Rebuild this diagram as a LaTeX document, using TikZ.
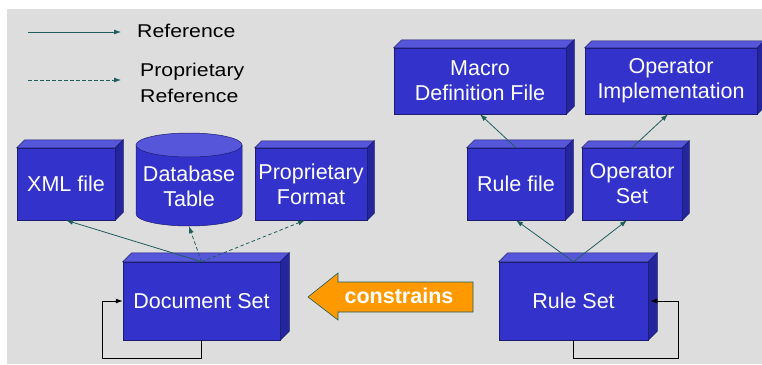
\documentclass[tikz,border=0pt]{standalone}
\usepackage{fontspec}
\setmainfont{Liberation Sans}
\newfontfamily\legendfont[FakeStretch=1.15]{Liberation Sans}
\usetikzlibrary{arrows.meta}
\definecolor{bg}{HTML}{DDDDDD}
\definecolor{boxfront}{HTML}{3333CC}
\definecolor{boxtop}{HTML}{5656DA}
\definecolor{boxside}{HTML}{25259E}
\definecolor{boxedge}{HTML}{1C1C70}
\definecolor{link}{HTML}{1F5C5C}
\definecolor{orangefill}{HTML}{FF9900}
\begin{document}
\begin{tikzpicture}[x=1pt,y=-1pt,
  box/.style={fill=boxfront, draw=boxedge, line width=0.5pt, inner sep=0pt,
    align=center, text=white, font=\fontsize{21.5}{25}\selectfont},
  ref/.style={draw=link, line width=0.8pt, -{Latex[length=7pt,width=5pt]}},
  propref/.style={ref, dash pattern=on 3.5pt off 2.5pt},
  loopline/.style={draw=black, line width=0.8pt, -{Latex[length=7pt,width=5pt]}},
  legendtext/.style={anchor=west, inner sep=0pt, align=left, text=black,
    font=\legendfont\fontsize{18.5}{26}\selectfont},
]
% canvas and background
\useasboundingbox (0,0) rectangle (762,364);
\fill[white] (0,0) rectangle (762,364);
\fill[bg] (7,9) rectangle (762,364);

% legend
\coordinate (lega) at (28,32);
\coordinate (legb) at (121,32);
\coordinate (legc) at (28,80);
\coordinate (legd) at (121,80);
\draw[ref] (lega) -- (legb);
\draw[propref] (legc) -- (legd);
\node[legendtext] (legref) at (137,31) {Reference};
\node[legendtext] (legprop) at (140,83) {Proprietary\\Reference};

% boxes
\node[box, minimum width=98pt, minimum height=72pt] (xml) at (66,184) {XML file};
\node[box, minimum width=112pt, minimum height=72pt] (prop) at (311,184) {Proprietary\\Format};
\node[box, minimum width=157pt, minimum height=78pt] (doc) at (201.5,301) {Document Set};
\node[box, minimum width=149pt, minimum height=78pt] (rules) at (573.5,301) {Rule Set};
\node[box, minimum width=172pt, minimum height=66pt] (macro) at (480,81) {Macro\\Definition File};
\node[box, minimum width=172pt, minimum height=66pt] (opimpl) at (671,81) {Operator\\Implementation};
\node[box, minimum width=98pt, minimum height=72pt] (rulefile) at (516,184) {Rule file};
\node[box, minimum width=100pt, minimum height=72pt] (opset) at (632,184) {Operator\\Set};

% top and side faces of the boxes
\foreach \n/\d in {xml/8, prop/7, doc/9, rules/9, macro/8, opimpl/7, rulefile/8, opset/7} {
  \filldraw[fill=boxtop, draw=boxedge, line width=0.5pt]
    (\n.north west) -- ([shift={(\d pt,\d pt)}]\n.north west)
    -- ([shift={(\d pt,\d pt)}]\n.north east) -- (\n.north east) -- cycle;
  \filldraw[fill=boxside, draw=boxedge, line width=0.5pt]
    (\n.north east) -- ([shift={(\d pt,\d pt)}]\n.north east)
    -- ([shift={(\d pt,\d pt)}]\n.south east) -- (\n.south east) -- cycle;
}

% database cylinder
\filldraw[fill=boxfront, draw=boxedge, line width=0.5pt]
  (136,145) -- (136,214) arc[start angle=180, end angle=360, x radius=53pt, y radius=12pt]
  -- (242,145) -- cycle;
\filldraw[fill=boxtop, draw=boxedge, line width=0.5pt]
  (189,145) ellipse [x radius=53pt, y radius=12pt];
\node[box, fill=none, draw=none, minimum width=106pt, minimum height=93pt] (db) at (189,179.5) {};
\node[text=white, align=center, inner sep=0pt, font=\fontsize{21.5}{25}\selectfont] (dbtext) at (189,186) {Database\\Table};

% references from the document set
\draw[ref] (doc.north) -- (xml.south);
\draw[propref] (doc.north) -- (db.south);
\draw[propref] (doc.north) -- ([xshift=-6pt]prop.south);

% references from the rule set
\draw[ref] (rules.north) -- (rulefile.south);
\draw[ref] (rules.north) -- ([xshift=-5pt]opset.south);
\draw[ref] (rulefile.north) -- (macro.south);
\draw[ref] (opset.north) -- ([xshift=-3pt]opimpl.south);

% self references
\draw[loopline] (doc.south) -- ++(0,18) -| ([xshift=-20pt]doc.west) -- (doc.west);
\draw[loopline] (rules.south) -- ++(0,18) -| ([xshift=30pt]rules.east) -- ([xshift=2pt]rules.east);

% constraint arrow
\coordinate (conscentre) at (399,296);
\filldraw[fill=orangefill, draw=link, line width=0.6pt]
  (308,297) -- (338,273) -- (338,282) -- (473,282) -- (473,312)
  -- (338,312) -- (338,320) -- cycle;
\node[text=white, inner sep=0pt, font=\bfseries\fontsize{21.5}{24}\selectfont] (cons) at (conscentre) {constrains};
\end{tikzpicture}
\end{document}
